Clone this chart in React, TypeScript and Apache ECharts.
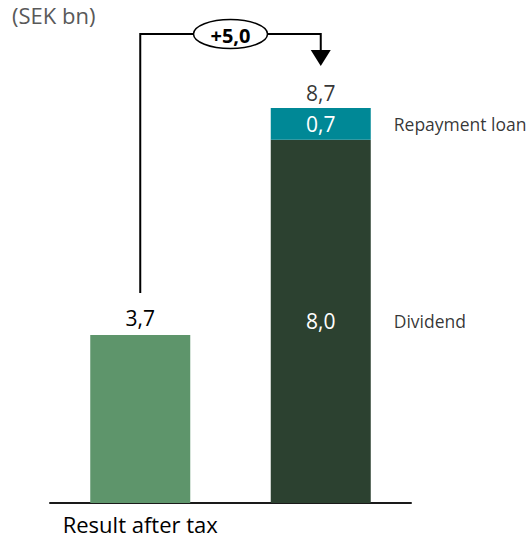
import React, { useEffect, useRef } from "react";
import * as echarts from "echarts";

const categories = ["Result after tax", ""];
const resultAfterTax: (number | string)[] = [3.7, "-"];
const dividend: (number | string)[] = ["-", 8.0];
const repaymentLoan: (number | string)[] = ["-", 0.7];
const deltaLabel = "+5,0";
const unitLabel = "(SEK bn)";
const segmentNames = ["Dividend", "Repayment loan"];

const fmt = (v: number) => v.toFixed(1).replace(".", ",");
const FONT = "'Open Sans', 'Noto Sans', sans-serif";
const NUM = 21;

export default function App() {
  const ref = useRef<HTMLDivElement>(null);
  useEffect(() => {
    if (!ref.current) return;
    const chart = echarts.init(ref.current, null, { renderer: "svg" });
    const total = (dividend[1] as number) + (repaymentLoan[1] as number);
    const option: any = {
      animation: false,
      grid: { left: 50, right: 119, top: 49, bottom: 38 },
      xAxis: {
        type: "category",
        data: categories,
        axisLine: { show: true, lineStyle: { color: "#1a1a1a", width: 2 } },
        axisTick: { show: false },
        axisLabel: { color: "#000", fontSize: 22, fontFamily: FONT, margin: 10, interval: 0 },
      },
      yAxis: { type: "value", min: 0, max: 10, show: false, splitLine: { show: false } },
      series: [
        {
          name: "Result after tax",
          type: "bar",
          stack: "a",
          barWidth: 100,
          data: resultAfterTax,
          itemStyle: { color: "#5e956b" },
          label: {
            show: true, position: "top", distance: 7, color: "#000", fontSize: NUM, fontFamily: FONT,
            formatter: (p: any) => fmt(p.value),
          },
        },
        {
          name: "Dividend",
          type: "bar",
          stack: "a",
          barWidth: 100,
          data: dividend,
          itemStyle: { color: "#2c4130" },
          label: {
            show: true, position: "inside", color: "#fff", fontSize: NUM, fontFamily: FONT,
            formatter: (p: any) => fmt(p.value),
          },
        },
        {
          name: "Repayment loan",
          type: "bar",
          stack: "a",
          barWidth: 100,
          data: repaymentLoan,
          itemStyle: { color: "#008896" },
          label: {
            show: true, position: "inside", color: "#fff", fontSize: NUM, fontFamily: FONT,
            formatter: (p: any) => fmt(p.value),
          },
        },
        {
          name: "Total",
          type: "scatter",
          symbolSize: 0,
          data: [[1, total]],
          label: {
            show: true, position: "top", distance: 5, color: "#000", fontSize: NUM, fontFamily: FONT,
            formatter: () => fmt(total),
          },
        },
        {
          name: "Segment names",
          type: "scatter",
          symbolSize: 0,
          data: [
            [1, (dividend[1] as number) / 2, segmentNames[0]],
            [1, (dividend[1] as number) + (repaymentLoan[1] as number) / 2, segmentNames[1]],
          ],
          label: {
            show: true, position: "right", distance: 73, color: "#000", fontSize: 17.5, fontFamily: FONT,
            formatter: (p: any) => p.value[2],
          },
        },
      ],
    };
    chart.setOption(option);
    const x1 = chart.convertToPixel({ xAxisIndex: 0 }, 0) as number;
    const x2 = chart.convertToPixel({ xAxisIndex: 0 }, 1) as number;
    const lineY = 34;
    const cx = (x1 + x2) / 2;
    chart.setOption({
      graphic: [
        {
          type: "text", left: 12, top: 4,
          style: { text: unitLabel, fill: "#595959", fontSize: 22, fontFamily: FONT },
        },
        {
          type: "polyline",
          shape: { points: [[x1, 293], [x1, lineY], [x2, lineY], [x2, 52]] },
          style: { stroke: "#000", lineWidth: 2, fill: "none" },
        },
        {
          type: "polygon",
          shape: { points: [[x2 - 10, 50], [x2 + 10, 50], [x2, 66]] },
          style: { fill: "#000" },
        },
        {
          type: "ellipse",
          shape: { cx: cx, cy: lineY, rx: 37, ry: 14.5 },
          style: { fill: "#fff", stroke: "#000", lineWidth: 1.5 },
        },
        {
          type: "text", x: cx, y: lineY + 1,
          style: {
            text: deltaLabel, fill: "#000", fontSize: 20, fontWeight: "bold", fontFamily: FONT,
            align: "center", verticalAlign: "middle",
          },
        },
      ],
    });
    return () => chart.dispose();
  }, []);
  return <div ref={ref} style={{ width: 530, height: 541, position: "absolute", left: 0, top: 0 }} />;
}
